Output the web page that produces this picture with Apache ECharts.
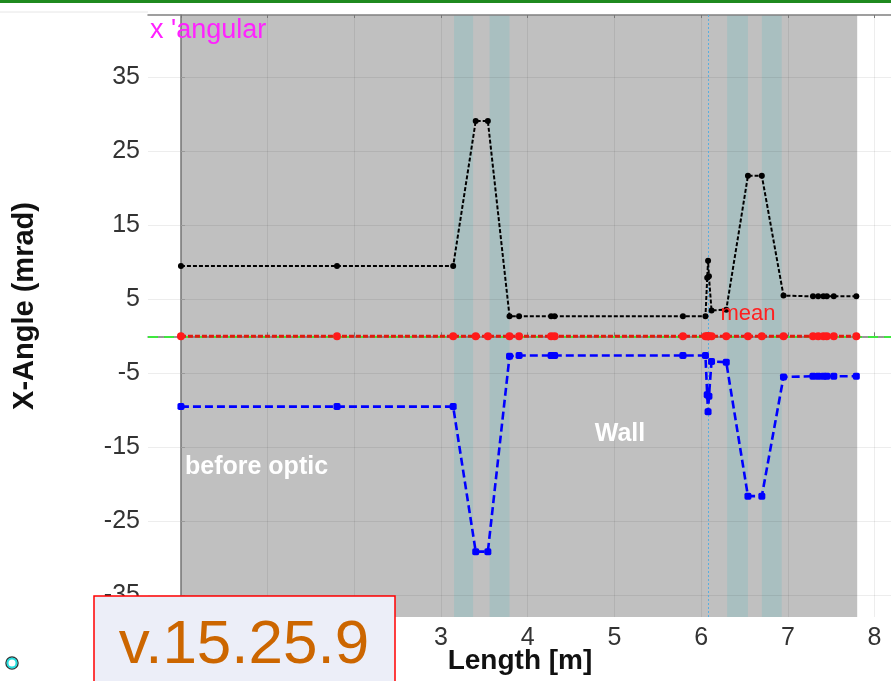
<!DOCTYPE html>
<html>
<head>
<meta charset="utf-8">
<script src="https://cdn.jsdelivr.net/npm/echarts@6/dist/echarts.min.js"></script>
<style>
  html, body { margin: 0; padding: 0; background: #ffffff; }
  #chart { width: 891px; height: 681px; }
</style>
</head>
<body>
<div id="chart"></div>
<script>
// Beam-line positions along the machine (m)
const positions = [0, 1.8, 3.14, 3.40, 3.54, 3.79, 3.90, 4.27, 4.31, 5.79, 6.05, 6.07, 6.08, 6.09, 6.12, 6.29, 6.54, 6.70, 6.95, 7.29, 7.35, 7.41, 7.45, 7.53, 7.79];
// Upper envelope of the horizontal angle (mrad)
const upperAngle = [9.5, 9.5, 9.5, 29.1, 29.1, 2.7, 2.7, 2.7, 2.7, 2.7, 2.7, 7.9, 10.2, 8.1, 3.5, 3.6, 21.7, 21.7, 5.5, 5.4, 5.4, 5.4, 5.4, 5.4, 5.4];
// Lower envelope of the horizontal angle (mrad)
const lowerAngle = [-9.5, -9.5, -9.5, -29.1, -29.1, -2.7, -2.6, -2.6, -2.6, -2.6, -2.6, -7.9, -10.2, -8.1, -3.4, -3.5, -21.6, -21.6, -5.5, -5.4, -5.4, -5.4, -5.4, -5.4, -5.4];
// Mean angle (mrad)
const meanAngle = [0, 0, 0, 0, 0, 0, 0, 0, 0, 0, 0, 0, 0, 0, 0, 0, 0, 0, 0, 0, 0, 0, 0, 0, 0];

// Axis ticks
const lengthTicks = [0, 1, 2, 3, 4, 5, 6, 7, 8];
const angleTicks = [-35, -25, -15, -5, 5, 15, 25, 35];

// Regions along the line (m)
const wallRange = [0, 7.8];
const opticBands = [[3.15, 3.37], [3.56, 3.79], [6.30, 6.54], [6.70, 6.93]];
const markerPosition = 6.08;

const toPairs = (xs, ys) => xs.map((x, i) => [x, ys[i]]);

const chart = echarts.init(document.getElementById('chart'), null, { renderer: 'canvas' });

const tickFont = { fontFamily: 'Liberation Sans, Arial, sans-serif', fontSize: 25, color: '#333333' };
const gridLine = { show: true, lineStyle: { color: 'rgba(0,0,0,0.07)', width: 1 } };

const option = {
  animation: false,
  backgroundColor: '#ffffff',
  grid: { left: 148, top: 15, right: 0, bottom: 64, containLabel: false },
  xAxis: [
    {
      type: 'value', min: -0.38, max: 8.19, z: 1,
      axisLine: { show: true, lineStyle: { color: '#777777', width: 1.5 } },
      axisTick: { show: true, inside: true, length: 4, customValues: lengthTicks, lineStyle: { color: '#777777' } },
      axisLabel: { customValues: lengthTicks, margin: 9, ...tickFont },
      splitLine: gridLine
    },
    {
      type: 'value', position: 'top', min: -0.38, max: 8.19, z: 1,
      axisLine: { show: true, lineStyle: { color: '#808080', width: 1.5 } },
      axisTick: { show: true, inside: true, length: 3, customValues: lengthTicks, lineStyle: { color: '#777777' } },
      axisLabel: { show: false },
      splitLine: { show: false }
    }
  ],
  yAxis: {
    type: 'value', min: -37.93, max: 43.42, z: 1,
    axisLine: { show: true, lineStyle: { color: '#777777', width: 1.5 } },
    axisTick: { show: true, inside: true, length: 4, customValues: angleTicks, lineStyle: { color: '#999999' } },
    axisLabel: { customValues: angleTicks, margin: 8, ...tickFont },
    splitLine: gridLine
  },
  series: [
    {
      // wall and optic regions, zero reference line underneath the data
      name: 'regions', type: 'line', data: [], z: 0, silent: true,
      markArea: {
        silent: true, z: 0,
        data: [
          [{ xAxis: wallRange[0], itemStyle: { color: '#c0c0c0' } }, { xAxis: wallRange[1] }],
          ...opticBands.map(b => [{ xAxis: b[0], itemStyle: { color: '#a9bfc0' } }, { xAxis: b[1] }])
        ]
      },
      markLine: {
        silent: true, z: 2, symbol: 'none', label: { show: false },
        data: [
          { yAxis: 0, lineStyle: { color: '#3ee83e', width: 2, type: [10, 6] } }
        ]
      }
    },
    {
      // position marker
      name: 'marker', type: 'line', data: [], z: 2, silent: true,
      markLine: {
        silent: true, z: 2, symbol: 'none', label: { show: false },
        data: [
          { xAxis: markerPosition, lineStyle: { color: '#5aaee0', width: 1, type: [2, 2] } }
        ]
      }
    },
    {
      name: 'mean', type: 'line', z: 3,
      data: toPairs(positions, meanAngle),
      symbol: 'circle', symbolSize: 8,
      itemStyle: { color: '#ff1a1a' },
      lineStyle: { color: '#e01a10', width: 3, type: [5, 2] }
    },
    {
      name: 'upper', type: 'line', z: 4,
      data: toPairs(positions, upperAngle),
      symbol: 'circle', symbolSize: 6,
      itemStyle: { color: '#000000' },
      lineStyle: { color: '#000000', width: 2, type: [4, 2] }
    },
    {
      name: 'lower', type: 'line', z: 4,
      data: toPairs(positions, lowerAngle),
      symbol: 'roundRect', symbolSize: 7,
      itemStyle: { color: '#0000ff' },
      lineStyle: { color: '#0000ff', width: 2.6, type: [8, 4] }
    }
  ],
  graphic: [
    { type: 'rect', z: 50, shape: { x: 0, y: 0, width: 891, height: 3 }, style: { fill: '#1f8a1f' } },
    { type: 'line', z: 50, shape: { x1: 0, y1: 12, x2: 148, y2: 12 }, style: { stroke: '#e6e6e6', lineWidth: 1 } },
    {
      type: 'text', z: 50, x: 150, y: 31,
      style: { text: "x 'angular", fill: '#ff22ff', font: '27px "Liberation Sans", Arial, sans-serif', verticalAlign: 'middle', align: 'left' }
    },
    {
      type: 'text', z: 50, x: 25, y: 306, rotation: Math.PI / 2,
      style: { text: 'X-Angle (mrad)', fill: '#111111', font: 'bold 29px "Liberation Sans", Arial, sans-serif', align: 'center', verticalAlign: 'middle' }
    },
    {
      type: 'text', z: 50, x: 520, y: 661,
      style: { text: 'Length [m]', fill: '#111111', font: 'bold 28px "Liberation Sans", Arial, sans-serif', align: 'center', verticalAlign: 'middle' }
    },
    {
      type: 'text', z: 50, x: 185, y: 467,
      style: { text: 'before optic', fill: '#ffffff', font: 'bold 25px "Liberation Sans", Arial, sans-serif', align: 'left', verticalAlign: 'middle' }
    },
    {
      type: 'text', z: 50, x: 620, y: 434,
      style: { text: 'Wall', fill: '#ffffff', font: 'bold 25px "Liberation Sans", Arial, sans-serif', align: 'center', verticalAlign: 'middle' }
    },
    {
      type: 'text', z: 50, x: 748, y: 314,
      style: { text: 'mean', fill: '#ff2020', font: '22px "Liberation Sans Narrow", "Liberation Sans", Arial, sans-serif', align: 'center', verticalAlign: 'middle' }
    },
    {
      type: 'rect', z: 60, shape: { x: 94, y: 596, width: 301, height: 100 },
      style: { fill: '#eceef8', stroke: '#ff0000', lineWidth: 1.5 }
    },
    {
      type: 'text', z: 61, x: 244, y: 646,
      style: { text: 'v.15.25.9', fill: '#cc6600', font: '62px "Liberation Sans", Arial, sans-serif', align: 'center', verticalAlign: 'middle' }
    },
    { type: 'circle', z: 50, shape: { cx: 12, cy: 663, r: 6 }, style: { fill: '#ffffff', stroke: '#333333', lineWidth: 1.5 } },
    { type: 'circle', z: 51, shape: { cx: 12, cy: 663, r: 4.5 }, style: { fill: '#ffffff', stroke: '#22dddd', lineWidth: 2 } }
  ]
};

chart.setOption(option);
</script>
</body>
</html>
